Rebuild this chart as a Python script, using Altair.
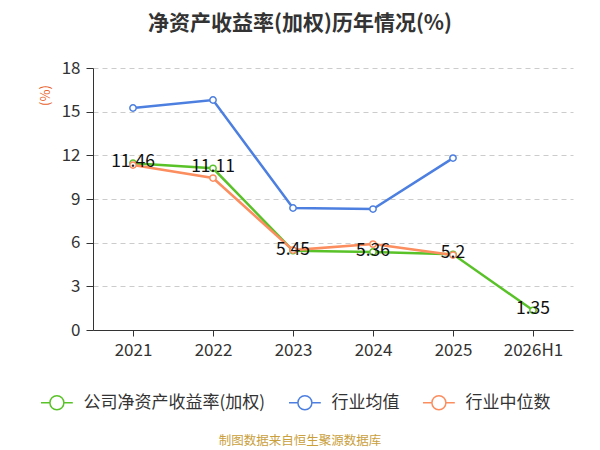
import altair as alt
import pandas as pd

years = ["2021", "2022", "2023", "2024", "2025", "2026H1"]
company = [11.46, 11.11, 5.45, 5.36, 5.2, 1.35]
industry_avg = [15.25, 15.8, 8.38, 8.31, 11.81]
industry_median = [11.33, 10.44, 5.49, 5.9, 5.15]

s_company = "公司净资产收益率(加权)"
s_avg = "行业均值"
s_med = "行业中位数"
series = [s_company, s_avg, s_med]
colors = ["#5ac229", "#4c7fe0", "#fb8d5e"]

rows = []
for y, v in zip(years, company):
    rows.append({"year": y, "value": v, "series": s_company, "label": f"{v:g}"})
for y, v in zip(years, industry_avg):
    rows.append({"year": y, "value": v, "series": s_avg, "label": ""})
for y, v in zip(years, industry_median):
    rows.append({"year": y, "value": v, "series": s_med, "label": ""})
df = pd.DataFrame(rows)

legend_symbol = ("M-1.5,0H-0.66 M0.66,0H1.5 "
                 "M-0.66,0A0.66,0.66 0 1,0 0.66,0A0.66,0.66 0 1,0 -0.66,0")

x = alt.X("year:N", sort=years, title=None,
          scale=alt.Scale(paddingInner=0, paddingOuter=0),
          axis=alt.Axis(labelAngle=0, labelFontSize=17, labelColor="#333333",
                        labelPadding=6, domainColor="#333333", tickColor="#333333",
                        tickSize=6, bandPosition=0, grid=False, labelFont="Noto Sans CJK SC"))
y = alt.Y("value:Q", title="(%)",
          scale=alt.Scale(domain=[0, 18], nice=False),
          axis=alt.Axis(values=[0, 3, 6, 9, 12, 15, 18], labelFontSize=17,
                        labelColor="#333333", domainColor="#333333", tickColor="#333333",
                        tickSize=7, labelPadding=6, gridDash=[5, 4], gridColor="#cccccc",
                        titleColor="#e8632a", titleFontSize=13, titleFontWeight="normal",
                        titleX=-48, titleY=27, titleAngle=270, titleBaseline="middle",
                        titleAlign="center",
                        labelFont="Noto Sans CJK SC", titleFont="Noto Sans CJK SC"))
color = alt.Color("series:N",
                  scale=alt.Scale(domain=series, range=colors),
                  legend=alt.Legend(title=None, orient="none", direction="horizontal",
                                    legendX=-47.6, legendY=323,
                                    symbolType=legend_symbol, symbolSize=450,
                                    symbolStrokeWidth=1.5, symbolFillColor="white",
                                    labelFontSize=17, labelColor="#333333",
                                    labelFont="Noto Sans CJK SC", labelLimit=400,
                                    columnPadding=20, symbolOffset=0, labelOffset=15))

lines = alt.Chart(df).mark_line(strokeWidth=2.5).encode(x=x, y=y, color=color)

points = alt.Chart(df).mark_point(
    filled=False, fill="white", fillOpacity=1, opacity=1,
    size=40, strokeWidth=1.5
).encode(x=alt.X("year:N", sort=years), y="value:Q", color=alt.Color("series:N", legend=None))

labels = alt.Chart(df).transform_filter(
    alt.datum.label != ""
).mark_text(fontSize=17.5, color="#111111", dy=-1, font="Noto Sans CJK SC").encode(
    x=alt.X("year:N", sort=years), y="value:Q", text="label:N")

footer = alt.Chart(pd.DataFrame({"t": ["制图数据来自恒生聚源数据库"]})).mark_text(
    fontSize=12.5, color="#c9a03c", font="Noto Sans CJK SC"
).encode(x=alt.value(207), y=alt.value(373), text="t:N")

chart = alt.layer(lines, points, labels, footer).properties(
    width=480, height=262,
    padding={"left": 85, "top": 60, "right": 19, "bottom": 122},
    autosize=alt.AutoSizeParams(type="none"),
    title=alt.TitleParams("净资产收益率(加权)历年情况(%)", fontSize=21, fontWeight="bold",
                          color="#333333", anchor="middle", dx=-33, offset=25,
                          font="Noto Sans CJK SC"),
).configure_view(stroke=None).configure_axisX(grid=False)

chart.save("out.html", embed_options={"renderer": "svg", "actions": False})
